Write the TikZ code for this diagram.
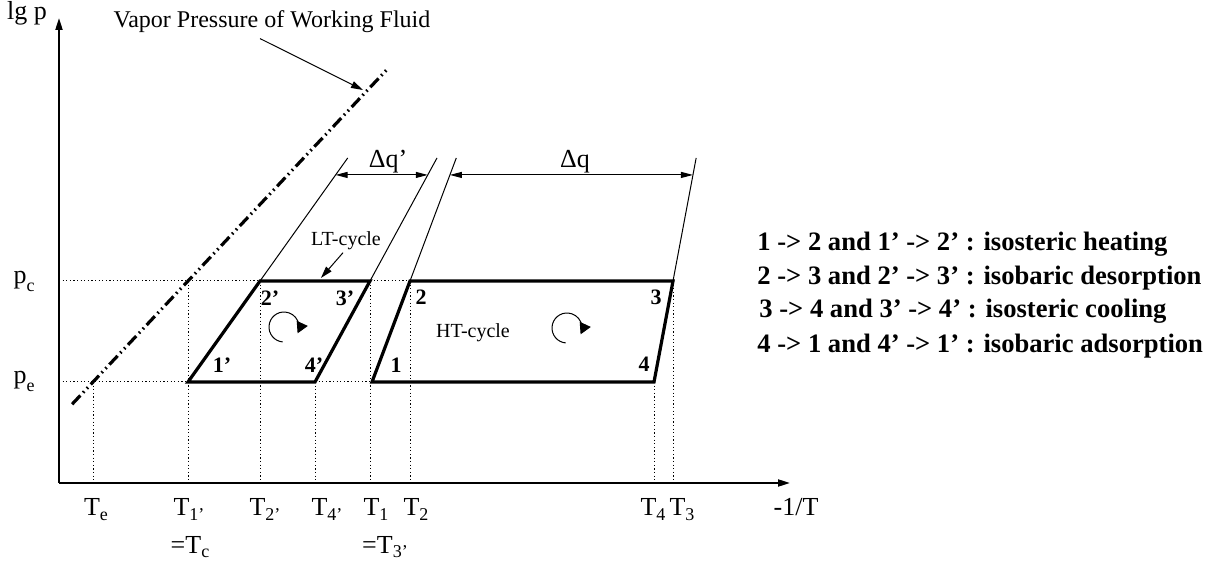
\documentclass[tikz,border=0pt]{standalone}
\usepackage{fontspec}
\setmainfont{Liberation Serif}
\usetikzlibrary{arrows.meta,calc}
\newcommand{\lsub}[1]{\raisebox{-2pt}{\fontsize{9}{9}\selectfont #1}}
\newcommand{\psub}[1]{\raisebox{-4pt}{\fontsize{9}{9}\selectfont #1}}

\begin{document}
\begin{tikzpicture}[
  x=0.5pt, y=0.5pt,
  axis/.style={line width=1pt, -{Triangle[length=6pt,width=3.5pt]}},
  loopline/.style={line width=1.6pt, line join=miter},
  guide/.style={line width=0.5pt, dash pattern=on 0.6pt off 1.2pt},
  slope/.style={line width=0.5pt},
  vapor/.style={line width=1.6pt, dash pattern=on 6pt off 2pt on 0.8pt off 2pt on 0.8pt off 2pt},
  pointer/.style={line width=0.5pt, -{Triangle[length=6pt,width=3.5pt]}},
  span/.style={line width=0.5pt, {Triangle[length=6pt,width=3pt]}-{Triangle[length=6pt,width=3pt]}},
  turn/.style={line width=0.5pt, -{Triangle[length=5.5pt,width=6pt]}},
  lbl/.style={font=\fontsize{13}{15}\selectfont, inner sep=0pt, anchor=base},
  small/.style={font=\fontsize{10}{12}\selectfont, inner sep=0pt, anchor=base},
  num/.style={font=\fontsize{11}{13}\selectfont\bfseries, inner sep=0pt, anchor=base},
  legend/.style={font=\fontsize{13.3}{15}\selectfont\bfseries, inner sep=0pt, anchor=base west}
]
\useasboundingbox (0,0) rectangle (1218,-565);

% axes
\coordinate (O) at (59,-483);
\coordinate (ytip) at (59,-18);
\coordinate (xtip) at (790,-483);
\draw[axis] (O) -- (ytip);
\draw[axis] (O) -- (xtip);

% corners of the two cycles
\coordinate (l1) at (188,-382);
\coordinate (l2) at (260,-281);
\coordinate (l3) at (370,-281);
\coordinate (l4) at (315,-382);
\coordinate (h1) at (372,-382);
\coordinate (h2) at (410,-281);
\coordinate (h3) at (673,-281);
\coordinate (h4) at (654,-382);
\coordinate (pc) at (59,-281);
\coordinate (pe) at (59,-382);
\coordinate (ve) at (93,-382);
\coordinate (vc) at (188,-281);

% dotted guides
\draw[guide] (pc) -- (l2);
\draw[guide] (l3) -- (h2);
\draw[guide] (pe) -- (l1);
\draw[guide] (l4) -- (h1);
\draw[guide] (ve) -- (ve |- O);
\draw[guide] (vc) -- (vc |- O);
\draw[guide] (l2) -- (l2 |- O);
\draw[guide] (l4) -- (l4 |- O);
\draw[guide] (l3) -- (l3 |- O);
\draw[guide] (h2) -- (h2 |- O);
\draw[guide] (h4) -- (h4 |- O);
\draw[guide] (h3) -- (h3 |- O);

% vapor pressure line
\draw[vapor] ($(ve)!-0.22!(vc)$) -- ($(ve)!3.11!(vc)$);

% isosteres
\draw[slope] (l2) -- ($(l1)!2.218!(l2)$);
\draw[slope] (l3) -- ($(l4)!2.218!(l3)$);
\draw[slope] (h2) -- ($(h1)!2.218!(h2)$);
\draw[slope] (h3) -- ($(h4)!2.218!(h3)$);
\draw[span] ($(l1)!2.05!(l2)$) -- ($(l4)!2.05!(l3)$);
\draw[span] ($(h1)!2.05!(h2)$) -- ($(h4)!2.05!(h3)$);
\node[lbl] (dqlt) at (388,-168) {Δq'};
\node[lbl] (dqht) at (575,-168) {Δq};

% cycles
\draw[loopline] (l1) -- (l2) -- (l3) -- (l4) -- cycle;
\draw[loopline] (h1) -- (h2) -- (h3) -- (h4) -- cycle;
\coordinate (ltc) at (284,-327);
\coordinate (htc) at (567,-328);
\draw[turn] (ltc) ++(265:15) arc[start angle=265, end angle=-25, radius=15];
\draw[turn] (htc) ++(265:15) arc[start angle=265, end angle=-25, radius=15];

\node[num] (n1p) at (222,-373) {1'};
\node[num] (n2p) at (270,-306) {2'};
\node[num] (n3p) at (345,-306) {3'};
\node[num] (n4p) at (314,-373) {4'};
\node[num] (n1) at (396,-373) {1};
\node[num] (n2) at (421,-305) {2};
\node[num] (n3) at (656,-305) {3};
\node[num] (n4) at (644,-372) {4};

\node[small] (ltlabel) at (346,-246) {LT-cycle};
\draw[pointer, shorten >=2pt] ([xshift=-1.5pt,yshift=-1pt]ltlabel.south) -- ($(l2)!0.53!(l3)$);
\node[small] (htlabel) at (473,-338) {HT-cycle};

% axis labels
\node[lbl] (lgp) at (27,-20) {lg p};
\node[lbl, font=\fontsize{12}{14}\selectfont] (vplabel) at (272,-28) {Vapor Pressure of Working Fluid};
\coordinate (vparr) at (363,-90);
\draw[pointer] ([xshift=-6pt,yshift=-2.5pt]vplabel.south) -- (vparr);

\node[lbl] (lpc) at (24,-284) {p\psub{c}};
\node[lbl] (lpe) at (24,-384) {p\psub{e}};

\node[lbl] (lTe) at (96,-516) {T\lsub{e}};
\node[lbl] (lT1p) at (189,-516) {T\lsub{1'}};
\node[lbl] (lT2p) at (265,-516) {T\lsub{2'}};
\node[lbl] (lT4p) at (327,-516) {T\lsub{4'}};
\node[lbl] (lT1) at (376,-516) {T\lsub{1}};
\node[lbl] (lT2) at (416,-516) {T\lsub{2}};
\node[lbl] (lT4) at (653,-516) {T\lsub{4}};
\node[lbl] (lT3) at (682,-516) {T\lsub{3}};
\node[lbl] (lx) at (796,-516) {-1/T};
\node[lbl] (lTc) at (190,-553) {=T\lsub{c}};
\node[lbl] (lT3p) at (385,-553) {=T\lsub{3'}};

% legend
\node[legend] (leg1) at (757,-251) {1 -> 2 and 1' -> 2' : isosteric heating};
\node[legend] (leg2) at (757,-285) {2 -> 3 and 2' -> 3' : isobaric desorption};
\node[legend] (leg3) at (759,-318) {3 -> 4 and 3' -> 4' : isosteric cooling};
\node[legend] (leg4) at (757,-353) {4 -> 1 and 4' -> 1' : isobaric adsorption};
\end{tikzpicture}
\end{document}
